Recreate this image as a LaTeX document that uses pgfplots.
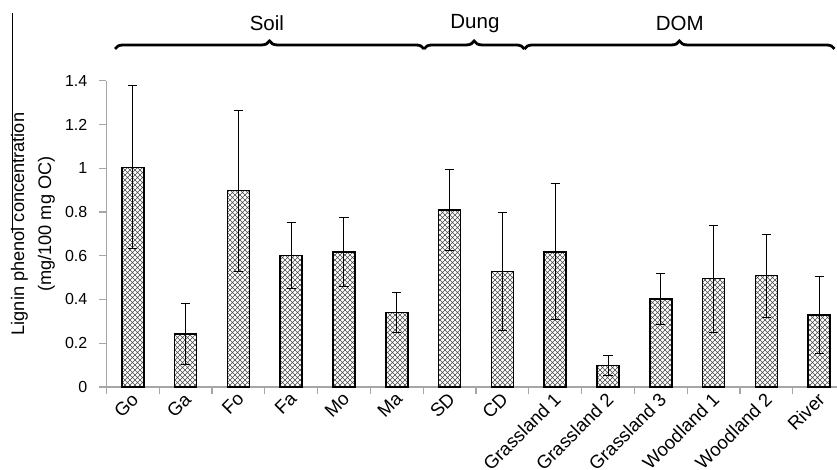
\documentclass[border=0pt]{standalone}
\usepackage{fontspec}
\setmainfont{Liberation Sans}
\usepackage{pgfplots}
\usepackage{pgfplotstable}
\pgfplotsset{compat=1.18}
\usetikzlibrary{patterns,decorations.pathreplacing}

% diagonal cross-hatch fill of the bars
\pgfdeclarepatternformonly{xhatch}{\pgfqpoint{-0.5pt}{-0.5pt}}{\pgfqpoint{3pt}{3pt}}{\pgfqpoint{2.5pt}{2.5pt}}{%
  \pgfsetlinewidth{0.3pt}%
  \pgfpathmoveto{\pgfqpoint{-0.1pt}{-0.1pt}}\pgfpathlineto{\pgfqpoint{2.6pt}{2.6pt}}%
  \pgfpathmoveto{\pgfqpoint{-0.1pt}{2.6pt}}\pgfpathlineto{\pgfqpoint{2.6pt}{-0.1pt}}%
  \pgfusepath{stroke}}

\pgfplotstableread{
x  y     err
0  1.004 0.372
1  0.242 0.140
2  0.897 0.367
3  0.600 0.150
4  0.618 0.158
5  0.340 0.093
6  0.809 0.187
7  0.527 0.270
8  0.618 0.310
9  0.099 0.046
10 0.402 0.118
11 0.495 0.245
12 0.509 0.190
13 0.329 0.178
}\lignin

\begin{document}
\begin{tikzpicture}
  \begin{axis}[
      scale only axis, width=365.3pt, height=153.15pt,
      xmin=-0.5, xmax=13.337, ymin=0, ymax=1.4,
      ybar, bar width=11pt, clip=false,
      axis x line*=bottom, axis y line*=left,
      axis line style={draw=black!35, line width=0.6pt},
      tick style={draw=black!35, line width=0.6pt},
      tick align=outside,
      xtick={0,...,13},
      xticklabels={Go,Ga,Fo,Fa,Mo,Ma,SD,CD,Grassland 1,Grassland 2,Grassland 3,Woodland 1,Woodland 2,River},
      major x tick style={draw=none},
      minor xtick={-0.5,0.5,...,12.5},
      minor tick length=3.5pt,
      xticklabel style={rotate=45, anchor=east, font=\fontsize{9.3}{11}\selectfont, xshift=3.5pt, yshift=-1.5pt},
      ytick={0,0.2,...,1.4}, major tick length=3.5pt,
      yticklabel style={font=\fontsize{8}{9}\selectfont, xshift=-2.5pt},
      /pgf/number format/assume math mode=true,
      /pgf/number format/fixed,
      ylabel={Lignin phenol concentration\\(mg/100 mg OC)},
      ylabel style={at={(axis description cs:-0.1005,0.532)}, anchor=center, align=center,
        font=\fontsize{9.1}{13.5}\selectfont},
    ]
    \addplot[draw=black, line width=0.75pt, pattern=xhatch, pattern color=black!70,
      error bars/.cd, y dir=both, y explicit,
      error bar style={black, line width=0.5pt},
      error mark options={rotate=90, black, mark size=2.3pt, line width=0.5pt}]
      table[x=x, y=y, y error=err] {\lignin};
    % group braces above the bars
    \draw[decorate, decoration={brace, amplitude=4pt}, line width=1.4pt]
      (axis cs:-0.337,1.545) -- (axis cs:5.515,1.545);
    \draw[decorate, decoration={brace, amplitude=4pt}, line width=1.4pt]
      (axis cs:5.515,1.545) -- (axis cs:7.416,1.545);
    \draw[decorate, decoration={brace, amplitude=4pt}, line width=1.4pt]
      (axis cs:7.416,1.545) -- (axis cs:13.29,1.545);
    \node[font=\fontsize{10.25}{12}\selectfont] at (axis cs:2.54,1.661) {Soil};
    \node[font=\fontsize{10.25}{12}\selectfont] at (axis cs:6.48,1.661) {Dung};
    \node[font=\fontsize{10.25}{12}\selectfont] at (axis cs:10.36,1.661) {DOM};
    \coordinate (bl) at (rel axis cs:0,0);
    \coordinate (tr) at (rel axis cs:1,1);
  \end{axis}
  \draw[black, line width=0.5pt] ([xshift=-46.7pt,yshift=77pt]bl) -- ([xshift=-46.7pt,yshift=187pt]bl);
  \pgfresetboundingbox
  \path[use as bounding box] ([xshift=-53.2pt,yshift=-41.5pt]bl) rectangle ([yshift=40.35pt]tr);
\end{tikzpicture}
\end{document}
